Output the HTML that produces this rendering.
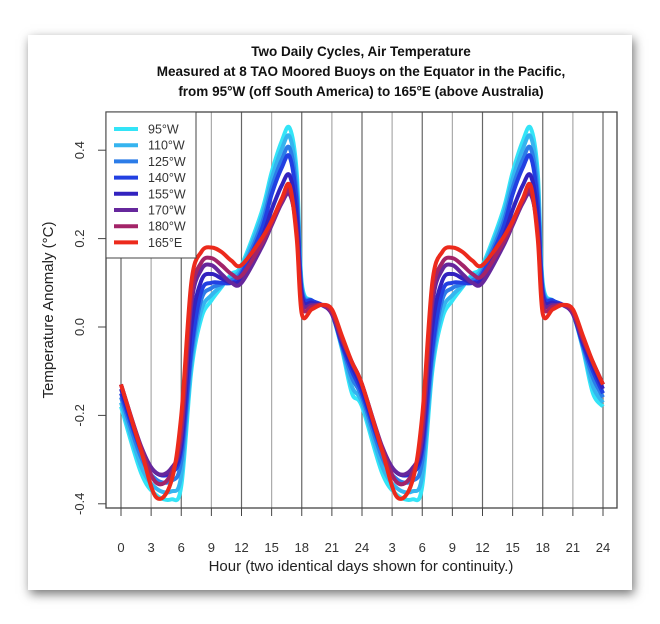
<!DOCTYPE html>
<html><head><meta charset="utf-8"><style>
body{margin:0;background:#fff;width:660px;height:624px;overflow:hidden;font-family:"Liberation Sans",sans-serif}
.card{position:absolute;left:28px;top:35px;width:604px;height:555px;background:#fff;box-shadow:2px 4px 10px rgba(0,0,0,0.55)}
</style></head><body>
<div class="card"></div>
<svg id="s" width="660" height="624" style="position:absolute;left:0;top:0" font-family="Liberation Sans, sans-serif">
<g font-weight="bold" font-size="13.5" text-anchor="middle" fill="#111">
<text x="361" y="56">Two Daily Cycles, Air Temperature</text>
<text x="361" y="76">Measured at 8 TAO Moored Buoys on the Equator in the Pacific,</text>
<text x="361" y="96">from 95°W (off South America) to 165°E (above Australia)</text>
</g>
<defs><clipPath id="c"><rect x="106" y="112" width="511" height="396"/></clipPath></defs>
<g id="grid"></g>
<g id="curves" clip-path="url(#c)"></g>
<rect x="106" y="112" width="511" height="396" fill="none" stroke="#444" stroke-width="1.3"/>
<g id="axes" font-size="13" fill="#333"></g>
<text x="361" y="571" text-anchor="middle" font-size="15" fill="#222">Hour (two identical days shown for continuity.)</text>
<text transform="translate(53,310) rotate(-90)" text-anchor="middle" font-size="15" fill="#222">Temperature Anomaly (°C)</text>
<g id="leg"></g>
</svg>
<script>
var NS="http://www.w3.org/2000/svg";
function el(p,t,a,txt){var e=document.createElementNS(NS,t);for(var k in a)e.setAttribute(k,a[k]);if(txt!=null)e.textContent=txt;document.getElementById(p).appendChild(e);return e;}
var X=function(h){return 121+h*(603-121)/48;}, Y=function(v){return 327-v*442;};
for(var i=0;i<=16;i++){var x=X(i*3);el('grid','line',{x1:x,x2:x,y1:112,y2:508,stroke:i%2?'#aaa':'#666','stroke-width':1.2});
el('axes','line',{x1:x,x2:x,y1:508,y2:516,stroke:'#444'});
el('axes','text',{x:x,y:552,'text-anchor':'middle'},String(i==0?0:((i*3-1)%24+1)));}
[0.4,0.2,0,-0.2,-0.4].forEach(function(v){var y=Y(v);el('axes','line',{x1:98,x2:106,y1:y,y2:y,stroke:'#444'});
var t=el('axes','text',{transform:'translate(84,'+y+') rotate(-90)','text-anchor':'middle'},v.toFixed(1));});
var H=[0,2,3.5,5,6,7,8,9,10,11,12,14,15,16,16.8,17.5,18,19,20,21,22,23,24];
var A=[-0.18,-0.33,-0.38,-0.39,-0.36,-0.1,0.02,0.06,0.09,0.12,0.14,0.26,0.35,0.42,0.45,0.35,0.1,0.06,0.05,0.03,-0.05,-0.15,-0.18];
var B=[-0.15,-0.28,-0.33,-0.33,-0.28,-0.05,0.08,0.1,0.1,0.1,0.12,0.22,0.3,0.36,0.385,0.28,0.08,0.06,0.05,0.03,-0.04,-0.1,-0.15];
var C=[-0.13,-0.27,-0.33,-0.32,-0.25,0.05,0.13,0.14,0.12,0.1,0.1,0.18,0.23,0.28,0.3,0.22,0.06,0.05,0.05,0.03,-0.03,-0.08,-0.13];
var D=[-0.13,-0.28,-0.385,-0.35,-0.2,0.1,0.17,0.18,0.17,0.15,0.14,0.2,0.24,0.29,0.32,0.2,0.03,0.04,0.05,0.04,-0.02,-0.08,-0.13];
function mix(w){return H.map(function(_,i){return w[0]*A[i]+w[1]*B[i]+w[2]*C[i]+w[3]*D[i];});}
var S=[["95°W","#33e4f7",[1,0,0,0]],["110°W","#35b4ef",[0.7,0.3,0,0]],["125°W","#2c7ce8",[0.3,0.7,0,0]],["140°W","#2240e2",[0,1,0,0]],["155°W","#3222bf",[0,0.5,0.5,0]],["170°W","#66279c",[0,0,1,0]],["180°W","#a32468",[0,0,0.6,0.4]],["165°E","#ec2a1c",[0,0,0,1]]];
S.forEach(function(s,k){var v=mix(s[2]);var pts=[];
for(var d=0;d<2;d++)for(var i=(d?1:0);i<H.length;i++)pts.push([X(H[i]+24*d),Y(v[i])]);
var p="M"+pts[0][0]+","+pts[0][1];
for(var i=0;i<pts.length-1;i++){var p0=pts[Math.max(0,i-1)],p1=pts[i],p2=pts[i+1],p3=pts[Math.min(pts.length-1,i+2)];
p+="C"+(p1[0]+(p2[0]-p0[0])/6)+","+(p1[1]+(p2[1]-p0[1])/6)+" "+(p2[0]-(p3[0]-p1[0])/6)+","+(p2[1]-(p3[1]-p1[1])/6)+" "+p2[0]+","+p2[1];}
el('curves','path',{d:p,fill:'none',stroke:s[1],'stroke-width':4,'stroke-linejoin':'round'});
var y=129+k*16.2;el('leg','line',{x1:114,x2:138,y1:y,y2:y,stroke:s[1],'stroke-width':4});
el('leg','text',{x:148,y:y+4.5,'font-size':12.5,fill:'#333'},s[0]);});
el('leg','rect',{x:106,y:112,width:90,height:146,fill:'none',stroke:'#444','stroke-width':1});
document.getElementById('leg').insertBefore(el('leg','rect',{x:106,y:112,width:90,height:146,fill:'#fff'}),document.getElementById('leg').firstChild);
</script>
</body></html>
